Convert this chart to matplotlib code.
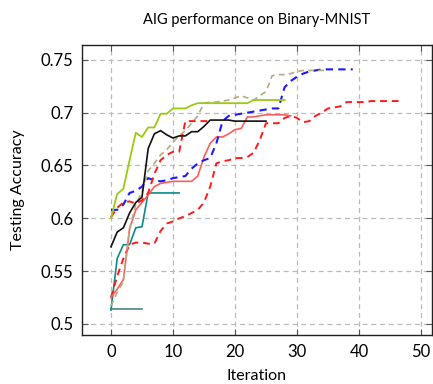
import numpy as np
import matplotlib
matplotlib.use('Agg')
import matplotlib.pyplot as plt

plt.rcParams['font.family'] = ['Lato', 'DejaVu Sans']

# ── data ──
green = [0.600, 0.623, 0.628, 0.655, 0.681, 0.677, 0.686, 0.686, 0.699, 0.699,
         0.704, 0.704, 0.704, 0.707, 0.709, 0.709, 0.709, 0.709, 0.709, 0.709,
         0.709, 0.709, 0.709, 0.712, 0.712, 0.712, 0.712, 0.712, 0.712]
black = [0.573, 0.587, 0.591, 0.605, 0.615, 0.620, 0.666, 0.680, 0.683, 0.679,
         0.676, 0.678, 0.678, 0.682, 0.682, 0.687, 0.693, 0.693, 0.693, 0.693,
         0.692, 0.692, 0.692, 0.692, 0.692, 0.692]
tan = [0.517, 0.530, 0.540, 0.590, 0.613, 0.625, 0.645, 0.652, 0.660, 0.665,
       0.672, 0.678, 0.683, 0.690, 0.697, 0.709, 0.710, 0.710, 0.711, 0.712,
       0.714, 0.716, 0.714, 0.712, 0.716, 0.720, 0.735, 0.736, 0.736, 0.737,
       0.739, 0.740, 0.740, 0.740, 0.740, 0.740]
blue = [0.608, 0.608, 0.613, 0.624, 0.626, 0.630, 0.638, 0.636, 0.635, 0.636,
        0.638, 0.639, 0.640, 0.647, 0.652, 0.655, 0.657, 0.671, 0.692, 0.697,
        0.698, 0.699, 0.700, 0.701, 0.702, 0.703, 0.704, 0.704, 0.724, 0.730,
        0.734, 0.737, 0.739, 0.740, 0.741, 0.741, 0.741, 0.741, 0.741, 0.741]
red_long = [0.525, 0.545, 0.562, 0.575, 0.577, 0.577, 0.576, 0.576, 0.588, 0.595,
            0.597, 0.600, 0.602, 0.605, 0.608, 0.615, 0.630, 0.652, 0.654, 0.655,
            0.657, 0.657, 0.658, 0.662, 0.674, 0.690, 0.690, 0.690, 0.695, 0.697,
            0.695, 0.691, 0.692, 0.697, 0.700, 0.704, 0.705, 0.706, 0.710, 0.710,
            0.710, 0.710, 0.711, 0.711, 0.711, 0.711, 0.711, 0.711]
red_short = [0.601, 0.610, 0.615, 0.616, 0.614, 0.617, 0.624, 0.642, 0.655, 0.660,
             0.663, 0.663, 0.692, 0.692, 0.692, 0.692, 0.692]
pink = [0.525, 0.533, 0.542, 0.590, 0.608, 0.615, 0.622, 0.630, 0.633, 0.634,
        0.635, 0.635, 0.635, 0.635, 0.640, 0.658, 0.671, 0.677, 0.677, 0.680,
        0.684, 0.685, 0.696, 0.696, 0.697, 0.698, 0.698, 0.698, 0.698, 0.697]
teal = [0.513, 0.562, 0.575, 0.575, 0.591, 0.592, 0.624, 0.624, 0.624, 0.624,
        0.624, 0.624]
flat = [0.514, 0.514, 0.514, 0.514, 0.514, 0.514]

x_ticks = [0, 10, 20, 30, 40, 50]
y_ticks = [0.5, 0.55, 0.6, 0.65, 0.7, 0.75]

fig, ax = plt.subplots(figsize=(4.33, 3.84), dpi=100)
fig.subplots_adjust(left=0.189, right=0.998, bottom=0.127, top=0.884)

series = [
    (flat, '#4a8585', '-', 1.2),
    (teal, '#0e8a8a', '-', 1.2),
    (red_long, '#ff1a1a', '--', 1.4),
    (pink, '#ff5c5c', '-', 1.2),
    (blue, '#1a1aff', '--', 1.5),
    (tan, '#b8aa7a', '--', 1.2),
    (red_short, '#ff1a1a', '--', 1.4),
    (black, '#111111', '-', 1.2),
    (green, '#99cc11', '-', 1.3),
]
for ys, c, ls, lw in series:
    ax.plot(np.arange(len(ys)), ys, color=c, ls=ls, lw=lw,
            dashes=(3.5, 2.5) if ls == '--' else (None, None))

ax.set_xlim(-4.7, 51.8)
ax.set_ylim(0.4893, 0.7645)
ax.set_xticks(x_ticks)
ax.set_yticks(y_ticks)
ax.yaxis.set_major_formatter(plt.FuncFormatter(lambda v, p: f'{v:g}'))
ax.tick_params(direction='in', top=True, right=True, length=4, color='#555555',
               labelsize=12, pad=6)
ax.grid(True, ls=(0, (4, 3)), color='#bbbbbb', lw=0.9)
for s in ax.spines.values():
    s.set_linewidth(1.0)
    s.set_color('#222222')

ax.set_xlabel('Iteration', fontsize=11.5, labelpad=7)
ax.set_ylabel('Testing Accuracy', fontsize=11.5, labelpad=11)
ax.set_title('AIG performance on Binary-MNIST', fontsize=10.5, pad=15)

fig.savefig('out.png', dpi=100)
